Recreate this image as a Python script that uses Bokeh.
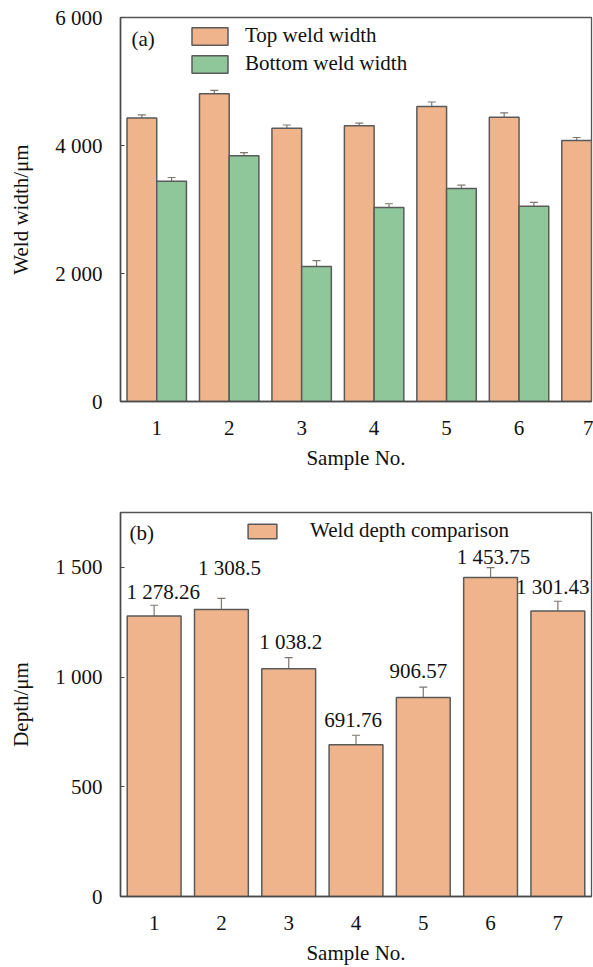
from bokeh.plotting import figure
from bokeh.models import (ColumnDataSource, Range1d, FixedTicker, CustomJSTickFormatter,
                          Whisker, TeeHead, LabelSet, Label, Legend, LegendItem)
from bokeh.layouts import column
from bokeh.embed import file_html
from bokeh.resources import INLINE

# ---------------- data ----------------
samples = [1, 2, 3, 4, 5, 6, 7]
top_width = [4430, 4810, 4270, 4310, 4610, 4440, 4080]
top_err = [50, 50, 50, 40, 70, 70, 45]
bottom_samples = [1, 2, 3, 4, 5, 6]
bottom_width = [3440, 3840, 2110, 3030, 3330, 3050]
bottom_err = [60, 50, 90, 60, 50, 60]

depth = [1278.26, 1308.5, 1038.2, 691.76, 906.57, 1453.75, 1301.43]
depth_err = [49, 50, 50, 43, 48, 45, 44]
depth_labels = [format(v, ",").replace(",", " ") for v in depth]

width_ticks = [0, 2000, 4000, 6000]
depth_ticks = [0, 500, 1000, 1500]

# ---------------- style ----------------
FONT = "Liberation Serif"
FS = "21px"
ORANGE = "#F0B48C"
GREEN = "#8FC79A"
EDGE = "#5a5a5a"
AXIS = "#4a4a4a"
ERR = "#7d7770"
BAR_W = 0.41
BAR_W2 = 0.8
label_dx = [9, 8, 2, -3, -5, 3, -5]
label_dy = [13, 30, 16, 15, 16, 11, 14]

fmt = CustomJSTickFormatter(code="return tick.toString().replace(/\\B(?=(\\d{3})+(?!\\d))/g, ' ');")


def style(p, ticks):
    p.xgrid.grid_line_color = None
    p.ygrid.grid_line_color = None
    p.outline_line_color = "#555555"
    p.outline_line_width = 1.3
    for ax in (p.xaxis[0], p.yaxis[0]):
        ax.axis_line_color = AXIS
        ax.axis_line_width = 1.5
        ax.major_label_text_font = FONT
        ax.major_label_text_font_size = FS
        ax.major_label_text_color = "#111111"
        ax.axis_label_text_font = FONT
        ax.axis_label_text_font_size = FS
        ax.axis_label_text_font_style = "normal"
        ax.axis_label_text_color = "#111111"
        ax.minor_tick_line_color = None
    p.xaxis.ticker = FixedTicker(ticks=samples)
    p.xaxis.major_tick_line_color = None
    p.xaxis.major_label_standoff = 13
    p.xaxis.axis_label_standoff = 8
    p.yaxis.ticker = FixedTicker(ticks=ticks)
    p.yaxis.formatter = fmt
    p.yaxis.major_tick_in = 4
    p.yaxis.major_tick_out = 0
    p.yaxis.major_label_standoff = 18
    p.yaxis.major_tick_line_color = AXIS
    p.yaxis.axis_label_standoff = 19


# ---------------- (a) ----------------
p1 = figure(width=593, height=481, x_range=Range1d(0.5, 7.0), y_range=Range1d(0, 6000),
            output_backend="svg", toolbar_location=None,
            min_border_left=119, min_border_right=2, min_border_top=17, min_border_bottom=80,
            x_axis_label="Sample No.", y_axis_label="Weld width/\u03bcm")
style(p1, width_ticks)

src_top = ColumnDataSource(dict(
    x=[s - BAR_W / 2 for s in samples], y=top_width,
    upper=[v + e for v, e in zip(top_width, top_err)],
    lower=[v - e for v, e in zip(top_width, top_err)]))
src_bot = ColumnDataSource(dict(
    x=[s + BAR_W / 2 for s in bottom_samples], y=bottom_width,
    upper=[v + e for v, e in zip(bottom_width, bottom_err)],
    lower=[v - e for v, e in zip(bottom_width, bottom_err)]))

r1 = p1.vbar(x="x", top="y", width=BAR_W, source=src_top, fill_color=ORANGE,
             line_color=EDGE, line_width=1.5)
r2 = p1.vbar(x="x", top="y", width=BAR_W, source=src_bot, fill_color=GREEN,
             line_color=EDGE, line_width=1.5)
for src in (src_top, src_bot):
    p1.add_layout(Whisker(base="x", upper="upper", lower="lower", source=src,
                          line_color=ERR, line_width=1.2,
                          upper_head=TeeHead(size=8, line_color=ERR, line_width=1.2),
                          lower_head=TeeHead(size=8, line_color=ERR, line_width=1.2)))

leg1 = Legend(items=[LegendItem(label="Top weld width", renderers=[r1]),
                     LegendItem(label="Bottom weld width", renderers=[r2])],
              location=(67, 325), padding=0, margin=0, spacing=3,
              glyph_width=45, glyph_height=22, label_standoff=13,
              label_text_font=FONT, label_text_font_size=FS, label_text_color="#111111",
              border_line_color=None, background_fill_alpha=0)
p1.add_layout(leg1)
p1.add_layout(Label(x=11, y=363, x_units="screen", y_units="screen", text="(a)",
                    text_font=FONT, text_font_size=FS, text_baseline="middle",
                    text_color="#111111"))

# ---------------- (b) ----------------
p2 = figure(width=593, height=486, x_range=Range1d(0.5, 7.5), y_range=Range1d(0, 1750),
            output_backend="svg", toolbar_location=None,
            min_border_left=120, min_border_right=2, min_border_top=31, min_border_bottom=71,
            x_axis_label="Sample No.", y_axis_label="Depth/\u03bcm")
style(p2, depth_ticks)

src_d = ColumnDataSource(dict(
    x=samples, y=depth, label=depth_labels,
    upper=[v + e for v, e in zip(depth, depth_err)],
    lower=[v - e for v, e in zip(depth, depth_err)],
    dx=label_dx, dy=label_dy))
r3 = p2.vbar(x="x", top="y", width=BAR_W2, source=src_d, fill_color=ORANGE,
             line_color=EDGE, line_width=1.5)
p2.add_layout(Whisker(base="x", upper="upper", lower="lower", source=src_d,
                      line_color=ERR, line_width=1.2,
                      upper_head=TeeHead(size=8, line_color=ERR, line_width=1.2),
                      lower_head=TeeHead(size=8, line_color=ERR, line_width=1.2)))
p2.add_layout(LabelSet(x="x", y="upper", text="label", source=src_d,
                       x_offset="dx", y_offset="dy", text_align="center",
                       text_baseline="middle", text_font=FONT, text_font_size=FS,
                       text_color="#111111"))

leg2 = Legend(items=[LegendItem(label="Weld depth comparison", renderers=[r3])],
              location=(124, 353), padding=0, margin=0,
              glyph_width=36, glyph_height=18, label_standoff=30,
              label_text_font=FONT, label_text_font_size=FS, label_text_color="#111111",
              border_line_color=None, background_fill_alpha=0)
p2.add_layout(leg2)
p2.add_layout(Label(x=9, y=364, x_units="screen", y_units="screen", text="(b)",
                    text_font=FONT, text_font_size=FS, text_baseline="middle",
                    text_color="#111111"))

layout = column(p1, p2, spacing=0)
open("out.html", "w").write(file_html(layout, INLINE))
